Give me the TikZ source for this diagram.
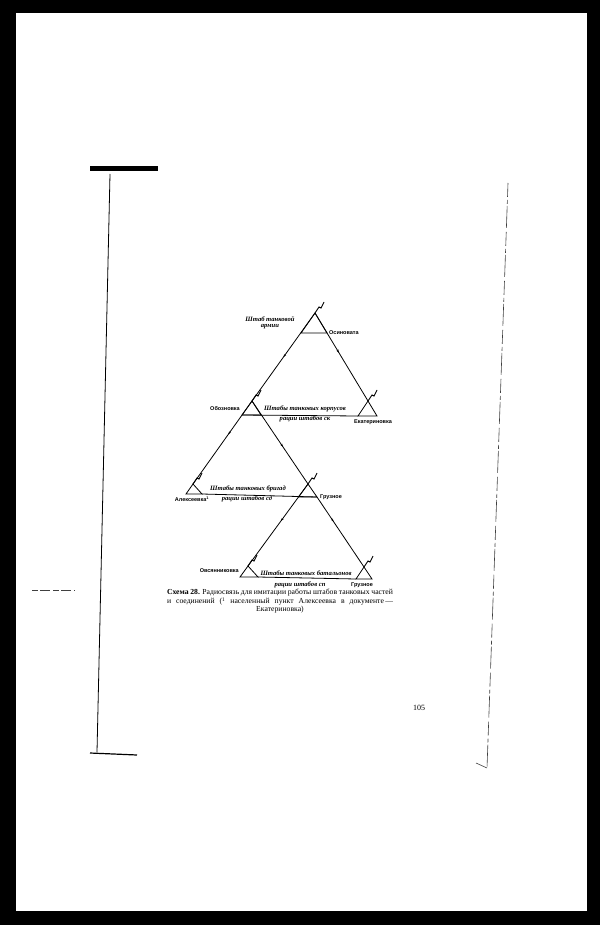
\documentclass[tikz,border=0pt]{standalone}
\usepackage{fontspec}
\setmainfont{Liberation Serif}
\setsansfont{Liberation Sans}
\usetikzlibrary{arrows.meta,decorations.markings}
\newcommand{\radant}[1]{\draw[antline] (#1) -- ++(4,-6) -- ++(2,1) -- ++(3,-6);}
\tikzset{
  link/.style={line width=0.8pt},
  antline/.style={line width=0.9pt},
  dirmark/.style={postaction={decorate}, decoration={markings,
      mark=at position #1 with {\arrow{Stealth[length=3pt,width=2.2pt]}}}},
  dirmark/.default=.5,
  place/.style={font=\fontsize{5.5}{5.5}\selectfont\sffamily\bfseries, inner sep=0pt},
  hq/.style={font=\fontsize{6.6}{6.6}\selectfont\bfseries\itshape, inner sep=0pt},
  rim/.style={line width=0.6pt, draw=black!75},
}
\begin{document}
\begin{tikzpicture}[x=1pt,y=-1pt]
  % scanned page
  \fill[black] (0,0) rectangle (600,925);
  \fill[white] (16,13) rectangle (587,911);
  \useasboundingbox (0,0) rectangle (600,925);

  % left binding rule
  \coordinate (barL) at (90,169);
  \coordinate (barR) at (158,169);
  \coordinate (ruleT) at (110,174);
  \coordinate (ruleB) at (97,752);
  \coordinate (footL) at (90,753);
  \coordinate (footR) at (137,755);
  \draw[line width=5pt] (barL) -- (barR);
  \draw[line width=0.8pt] (ruleT) -- (ruleB);
  \draw[line width=1.2pt] (footL) -- (footR);
  \coordinate (tickL) at (32,590);
  \coordinate (tickR) at (75,590);
  \draw[rim, dash pattern=on 6pt off 2pt on 10pt off 3pt] (tickL) -- (tickR);

  % right edge of the facing page
  \coordinate (edgeT) at (508,183);
  \coordinate (edgeB) at (487,768);
  \coordinate (edgeK) at (476,763);
  \draw[rim, dash pattern=on 14pt off 3pt on 4pt off 2pt on 22pt off 4pt] (edgeT) -- (edgeB);
  \draw[rim] (edgeK) -- (edgeB);

  % radio stations (apex, left and right corner)
  \coordinate (osA) at (315,313);  \coordinate (osL) at (301,333);  \coordinate (osR) at (327,333);
  \coordinate (obA) at (252,401);  \coordinate (obL) at (242,415);  \coordinate (obR) at (261,415);
  \coordinate (ekA) at (368,401);  \coordinate (ekL) at (358,416);  \coordinate (ekR) at (377,416);
  \coordinate (alA) at (193,484);  \coordinate (alL) at (186,494);  \coordinate (alR) at (202,494);
  \coordinate (g1A) at (308,484);  \coordinate (g1L) at (298.5,497); \coordinate (g1R) at (317,497);
  \coordinate (ovA) at (248,566);  \coordinate (ovL) at (240,577);  \coordinate (ovR) at (258,577);
  \coordinate (g2A) at (364,567);  \coordinate (g2L) at (356,579);  \coordinate (g2R) at (372,579);

  \foreach \s in {os,ob,ek,al,g1,ov,g2}{
    \draw[link] (\s A) -- (\s L) -- (\s R) -- cycle;
    \radant{\s A}
  }

  % radio links
  \draw[link, dirmark] (osA) -- (obA);
  \draw[link, dirmark=.45] (osA) -- (ekA);
  \draw[link, dirmark=.4] (obA) -- (alA);
  \draw[link, dirmark=.55] (obA) -- (g1A);
  \draw[link, dirmark=.35] (g1R) -- (g2A);
  \draw[link, dirmark=.45] (g1A) -- (ovA);
  \draw[link] (obL) -- (ekL);
  \draw[link] (alR) -- (g1R);
  \draw[link] (ovR) -- (g2L);

  % labels
  \node[hq, align=center] (armyhq) at (270,323) {Штаб танковой\\армии};
  \node[place, anchor=west] (osin) at (329,333) {Осиновата};
  \node[place, anchor=east] (obozn) at (240,409) {Обозновка};
  \node[place] (ekat) at (373,422) {Екатериновка};
  \node[hq] (corpshq) at (305,409) {Штабы танковых корпусов};
  \node[hq] (corpsr) at (305,419) {рации штабов ск};
  \node[place] (aleks) at (192,499) {Алексеевка\textsuperscript{1}};
  \node[hq] (brighq) at (248,489) {Штабы танковых бригад};
  \node[hq] (brigr) at (247,498.5) {рации штабов сд};
  \node[place, anchor=west] (gruz1) at (320,497) {Грузное};
  \node[place, anchor=east] (ovs) at (239,571) {Овсянниковка};
  \node[hq] (bathq) at (306,573.5) {Штабы танковых батальонов};
  \node[hq] (batr) at (300,584.5) {рации штабов сп};
  \node[place] (gruz2) at (362,585) {Грузное};

  % caption and page number
  \node[font=\fontsize{7.7}{6.9}\selectfont, align=center, inner sep=0pt] (caption) at (280,601.5) {%
    \makebox[226pt][s]{\textbf{Схема 28.} Радиосвязь для имитации работы штабов танковых частей}\\
    \makebox[226pt][s]{и соединений (\textsuperscript{1} населенный пункт Алексеевка в документе\,—}\\
    Екатериновка)};
  \node[font=\fontsize{8}{8}\selectfont, inner sep=0pt] (pageno) at (419,708) {105};
\end{tikzpicture}
\end{document}
